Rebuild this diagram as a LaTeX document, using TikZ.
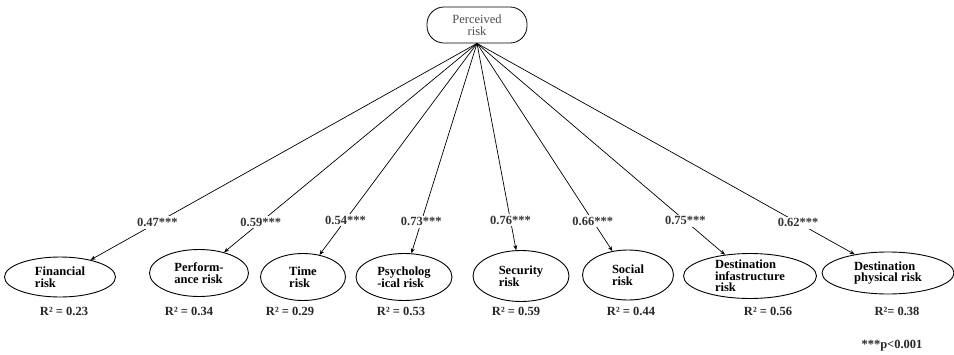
\documentclass[tikz,border=0pt]{standalone}
\usepackage{fontspec}
\setmainfont{Liberation Serif}
\usetikzlibrary{shapes.geometric,arrows.meta}

\begin{document}
\begin{tikzpicture}[
    x=1pt, y=-1pt,
    construct/.style={rectangle, draw, line width=0.8pt, rounded corners=17pt, minimum width=100pt, minimum height=36pt, align=center, inner sep=0pt, text=black!70, font=\fontsize{12.5}{11.5}\selectfont},
    factor/.style={ellipse, draw, line width=0.9pt, inner sep=0pt, align=left, font=\fontsize{12.5}{11.5}\selectfont\bfseries},
    arr/.style={-{Stealth[length=5pt,width=4pt]}, line width=0.7pt},
    load/.style={fill=white, inner sep=2pt, text=black!80, font=\fontsize{12.5}{14}\selectfont\bfseries},
    rsq/.style={text=black!85, font=\fontsize{12.5}{14}\selectfont\bfseries}
]
\useasboundingbox (0,0) rectangle (954,354);

\node[construct] (risk) at (477,25) {Perceived\\risk};

\node[factor, minimum width=111pt, minimum height=40pt] (fin) at (60,277) {Financial\\risk};
\node[factor, minimum width=99pt, minimum height=47pt] (perf) at (199,273) {Perform-\\ance risk};
\node[factor, minimum width=85pt, minimum height=47pt] (time) at (303,277) {Time\\risk};
\node[factor, minimum width=96pt, minimum height=47pt] (psy) at (404,277) {Psycholog\\-ical risk};
\node[factor, minimum width=96pt, minimum height=51pt] (sec) at (521,276) {Security\\risk};
\node[factor, minimum width=91pt, minimum height=50pt] (soc) at (628,275) {Social\\risk};
\node[factor, minimum width=133pt, minimum height=42pt] (infra) at (750,276) {Destination\\infastructure\\risk};
\node[factor, minimum width=132pt, minimum height=42pt] (phys) at (888,273) {Destination\\physical risk};

\draw[arr] (risk.south) -- node[load, pos=0.827] (l1) {0.47***} (fin);
\draw[arr] (risk.south) -- node[load, pos=0.855] (l2) {0.59***} (perf);
\draw[arr] (risk.south) -- node[load, pos=0.835] (l3) {0.54***} (time);
\draw[arr] (risk.south) -- node[load, pos=0.85] (l4) {0.73***} (psy);
\draw[arr] (risk.south) -- node[load, pos=0.855] (l5) {0.76***} (sec);
\draw[arr] (risk.south) -- node[load, pos=0.855] (l6) {0.66***} (soc);
\draw[arr] (risk.south) -- node[load, pos=0.84] (l7) {0.75***} (infra);
\draw[arr] (risk.south) -- node[load, pos=0.85] (l8) {0.62***} (phys);

\node[rsq] (r1) at (64,311) {R² = 0.23};
\node[rsq] (r2) at (189,311) {R² = 0.34};
\node[rsq] (r3) at (290,311) {R² = 0.29};
\node[rsq] (r4) at (401,311) {R² = 0.53};
\node[rsq] (r5) at (516,311) {R² = 0.59};
\node[rsq] (r6) at (631,311) {R² = 0.44};
\node[rsq] (r7) at (768,311) {R² = 0.56};
\node[rsq] (r8) at (897,311) {R²= 0.38};

\node[rsq] (sig) at (892,346) {***p<0.001};
\end{tikzpicture}
\end{document}
